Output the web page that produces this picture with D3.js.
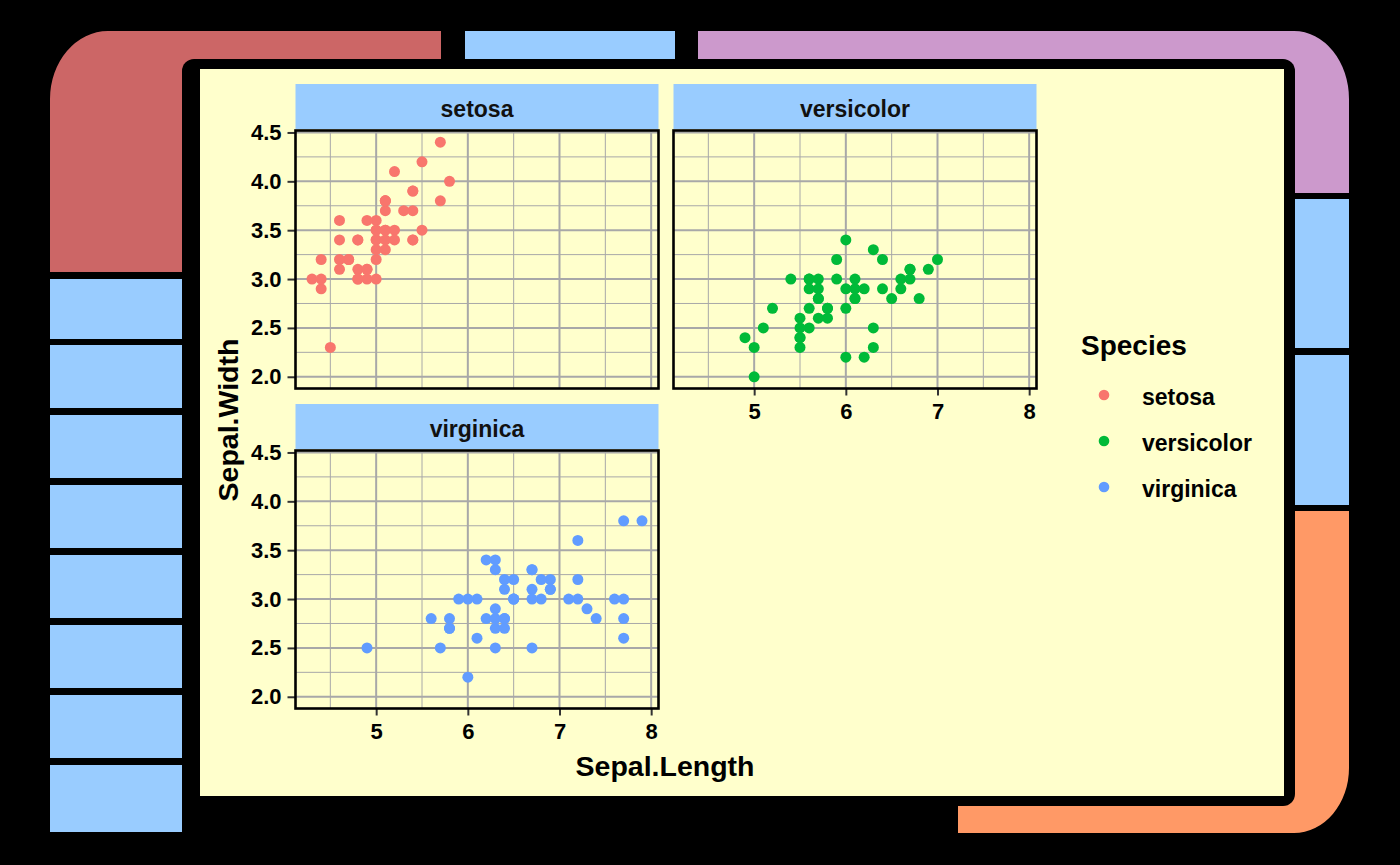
<!DOCTYPE html>
<html><head><meta charset="utf-8">
<script src="https://cdn.jsdelivr.net/npm/d3@7"></script>
<style>html,body{margin:0;padding:0;background:#000;}svg{display:block;}</style>
</head><body>
<svg id="chart" width="1400" height="865"></svg>
<script>
// ---- data (iris: Sepal.Length / Sepal.Width) ----
const species = ["setosa", "versicolor", "virginica"];
const speciesColors = ["#F8766D", "#00BA38", "#619CFF"];
const setosaLength = [5.1,4.9,4.7,4.6,5.0,5.4,4.6,5.0,4.4,4.9,5.4,4.8,4.8,4.3,5.8,5.7,5.4,5.1,5.7,5.1,5.4,5.1,4.6,5.1,4.8,5.0,5.0,5.2,5.2,4.7,4.8,5.4,5.2,5.5,4.9,5.0,5.5,4.9,4.4,5.1,5.0,4.5,4.4,5.0,5.1,4.8,5.1,4.6,5.3,5.0];
const setosaWidth  = [3.5,3.0,3.2,3.1,3.6,3.9,3.4,3.4,2.9,3.1,3.7,3.4,3.0,3.0,4.0,4.4,3.9,3.5,3.8,3.8,3.4,3.7,3.6,3.3,3.4,3.0,3.4,3.5,3.4,3.2,3.1,3.4,4.1,4.2,3.1,3.2,3.5,3.6,3.0,3.4,3.5,2.3,3.2,3.5,3.8,3.0,3.8,3.2,3.7,3.3];
const versicolorLength = [7.0,6.4,6.9,5.5,6.5,5.7,6.3,4.9,6.6,5.2,5.0,5.9,6.0,6.1,5.6,6.7,5.6,5.8,6.2,5.6,5.9,6.1,6.3,6.1,6.4,6.6,6.8,6.7,6.0,5.7,5.5,5.5,5.8,6.0,5.4,6.0,6.7,6.3,5.6,5.5,5.5,6.1,5.8,5.0,5.6,5.7,5.7,6.2,5.1,5.7];
const versicolorWidth  = [3.2,3.2,3.1,2.3,2.8,2.8,3.3,2.4,2.9,2.7,2.0,3.0,2.2,2.9,2.9,3.1,3.0,2.7,2.2,2.5,3.2,2.8,2.5,2.8,2.9,3.0,2.8,3.0,2.9,2.6,2.4,2.4,2.7,2.7,3.0,3.4,3.1,2.3,3.0,2.5,2.6,3.0,2.6,2.3,2.7,3.0,2.9,2.9,2.5,2.8];
const virginicaLength = [6.3,5.8,7.1,6.3,6.5,7.6,4.9,7.3,6.7,7.2,6.5,6.4,6.8,5.7,5.8,6.4,6.5,7.7,7.7,6.0,6.9,5.6,7.7,6.3,6.7,7.2,6.2,6.1,6.4,7.2,7.4,7.9,6.4,6.3,6.1,7.7,6.3,6.4,6.0,6.9,6.7,6.9,5.8,6.8,6.7,6.7,6.3,6.5,6.2,5.9];
const virginicaWidth  = [3.3,2.7,3.0,2.9,3.0,3.0,2.5,2.9,2.5,3.6,3.2,2.7,3.0,2.5,2.8,3.2,3.0,3.8,2.6,2.2,3.2,2.8,2.8,2.7,3.3,3.2,2.8,3.0,2.8,3.0,2.8,3.8,2.8,2.8,2.6,3.0,3.4,3.1,3.0,3.1,3.1,3.1,2.7,3.2,3.3,3.0,2.5,3.0,3.4,3.0];
const xTicks = [5, 6, 7, 8];
const xMinorTicks = [4.5, 5.5, 6.5, 7.5];
const yTicks = [2.0, 2.5, 3.0, 3.5, 4.0, 4.5];
const yMinorTicks = [2.25, 2.75, 3.25, 3.75, 4.25];
const xLabel = "Sepal.Length", yLabel = "Sepal.Width", legendTitle = "Species";

const lengths = [setosaLength, versicolorLength, virginicaLength];
const widths = [setosaWidth, versicolorWidth, virginicaWidth];

// ---- LCARS frame ----
const svg = d3.select("#chart");
const RED = "#CC6666", BLUE = "#99CCFF", PURPLE = "#CC99CC", ORANGE = "#FF9966", CREAM = "#FFFFCC";
svg.append("rect").attr("width", 1400).attr("height", 865).attr("fill", "#000");
const frame = svg.append("g");
// red elbow (top-left)
frame.append("path").attr("fill", RED)
  .attr("d", "M50,272 V99 A58,68 0 0 1 108,31 H441 V59 H182 V272 Z");
frame.append("rect").attr("x", 182).attr("y", 59).attr("width", 25).attr("height", 25).attr("fill", RED);
// top blue bar
frame.append("rect").attr("x", 465).attr("y", 31).attr("width", 210).attr("height", 28).attr("fill", BLUE);
// purple elbow (top-right)
frame.append("path").attr("fill", PURPLE)
  .attr("d", "M698,31 H1294 A55,68 0 0 1 1349,99 V193 H1295 V59 H698 Z");
frame.append("rect").attr("x", 1270).attr("y", 59).attr("width", 25).attr("height", 25).attr("fill", PURPLE);
// right blue bars
[[199, 348], [355, 505]].forEach(([a, b]) =>
  frame.append("rect").attr("x", 1295).attr("y", a).attr("width", 54).attr("height", b - a).attr("fill", BLUE));
// orange elbow (bottom-right)
frame.append("path").attr("fill", ORANGE)
  .attr("d", "M1295,511 H1349 V768 A55,65 0 0 1 1294,833 H958 V805 H1295 Z");
frame.append("rect").attr("x", 1270).attr("y", 781).attr("width", 25).attr("height", 25).attr("fill", ORANGE);
// left blue bars
[[279, 339], [345, 408], [415, 478], [485, 548], [555, 618], [625, 688], [695, 758], [765, 832]].forEach(([a, b]) =>
  frame.append("rect").attr("x", 50).attr("y", a).attr("width", 132).attr("height", b - a).attr("fill", BLUE));
// inner black rounded rect + cream plot background
frame.append("rect").attr("x", 182).attr("y", 59).attr("width", 1113).attr("height", 747).attr("rx", 12).attr("ry", 12).attr("fill", "#000");
frame.append("rect").attr("x", 200).attr("y", 69).attr("width", 1084).attr("height", 727).attr("fill", CREAM);

// ---- facets ----
const FONT = "'Liberation Sans', Arial, sans-serif";
const colLeft = [295.5, 673.5], panelW = 363;
const rowTop = [130.5, 450.5], panelH = 258;
const facetPos = [[0, 0], [1, 0], [0, 1]]; // [col,row]
const GRID = "#A8A8A8";

species.forEach((sp, i) => {
  const [c, r] = facetPos[i];
  const x = d3.scaleLinear().domain([4.12, 8.08]).range([colLeft[c], colLeft[c] + panelW]);
  const y = d3.scaleLinear().domain([1.88, 4.52]).range([rowTop[r] + panelH, rowTop[r]]);
  const g = svg.append("g");

  // strip
  g.append("rect").attr("x", colLeft[c]).attr("y", rowTop[r] - 46.5).attr("width", panelW).attr("height", 45).attr("fill", BLUE);
  g.append("text").attr("x", colLeft[c] + panelW / 2).attr("y", rowTop[r] - 14)
    .attr("text-anchor", "middle").attr("font-family", FONT).attr("font-weight", "bold").attr("font-size", 23).attr("fill", "#111").text(sp);

  // grid
  xMinorTicks.forEach(v => g.append("line").attr("x1", x(v)).attr("x2", x(v)).attr("y1", rowTop[r]).attr("y2", rowTop[r] + panelH).attr("stroke", GRID).attr("stroke-width", 1));
  yMinorTicks.forEach(v => g.append("line").attr("y1", y(v)).attr("y2", y(v)).attr("x1", colLeft[c]).attr("x2", colLeft[c] + panelW).attr("stroke", GRID).attr("stroke-width", 1));
  xTicks.forEach(v => g.append("line").attr("x1", x(v)).attr("x2", x(v)).attr("y1", rowTop[r]).attr("y2", rowTop[r] + panelH).attr("stroke", GRID).attr("stroke-width", 2));
  yTicks.forEach(v => g.append("line").attr("y1", y(v)).attr("y2", y(v)).attr("x1", colLeft[c]).attr("x2", colLeft[c] + panelW).attr("stroke", GRID).attr("stroke-width", 2));

  // points
  g.append("g").selectAll("circle").data(d3.range(lengths[i].length)).join("circle")
    .attr("cx", k => x(lengths[i][k])).attr("cy", k => y(widths[i][k])).attr("r", 5.5).attr("fill", speciesColors[i]);

  // axes
  const showX = (r === 1) || (c === 1);
  const showY = (c === 0);
  if (showX) {
    const ax = g.append("g").attr("transform", `translate(0,${rowTop[r] + panelH})`)
      .call(d3.axisBottom(x).tickValues(xTicks).tickFormat(d3.format("d")).tickSize(7).tickPadding(8));
    ax.select(".domain").remove();
    ax.selectAll("line").attr("stroke", "#333").attr("stroke-width", 2);
    ax.selectAll("text").attr("font-family", FONT).attr("font-weight", "bold").attr("font-size", 22).attr("fill", "#000");
  }
  if (showY) {
    const ay = g.append("g").attr("transform", `translate(${colLeft[c]},0)`)
      .call(d3.axisLeft(y).tickValues(yTicks).tickFormat(d3.format(".1f")).tickSize(8).tickPadding(6));
    ay.select(".domain").remove();
    ay.selectAll("line").attr("stroke", "#333").attr("stroke-width", 2);
    ay.selectAll("text").attr("font-family", FONT).attr("font-weight", "bold").attr("font-size", 22).attr("fill", "#000");
  }
  // panel border
  g.append("rect").attr("x", colLeft[c]).attr("y", rowTop[r]).attr("width", panelW).attr("height", panelH)
    .attr("fill", "none").attr("stroke", "#000").attr("stroke-width", 2.6);
});

// axis titles
svg.append("text").attr("x", 665).attr("y", 776).attr("text-anchor", "middle")
  .attr("font-family", FONT).attr("font-weight", "bold").attr("font-size", 28.5).attr("fill", "#000").text(xLabel);
svg.append("text").attr("transform", "translate(238,420) rotate(-90)").attr("text-anchor", "middle")
  .attr("font-family", FONT).attr("font-weight", "bold").attr("font-size", 28.5).attr("fill", "#000").text(yLabel);

// legend
const lg = svg.append("g");
lg.append("text").attr("x", 1081).attr("y", 355).attr("font-family", FONT).attr("font-weight", "bold").attr("font-size", 28).attr("fill", "#000").text(legendTitle);
species.forEach((sp, i) => {
  const cy = 395 + i * 46;
  lg.append("circle").attr("cx", 1104).attr("cy", cy).attr("r", 5.3).attr("fill", speciesColors[i]);
  lg.append("text").attr("x", 1142).attr("y", cy + 10).attr("font-family", FONT).attr("font-weight", "bold").attr("font-size", 23).attr("fill", "#000").text(sp);
});
</script>
</body></html>
